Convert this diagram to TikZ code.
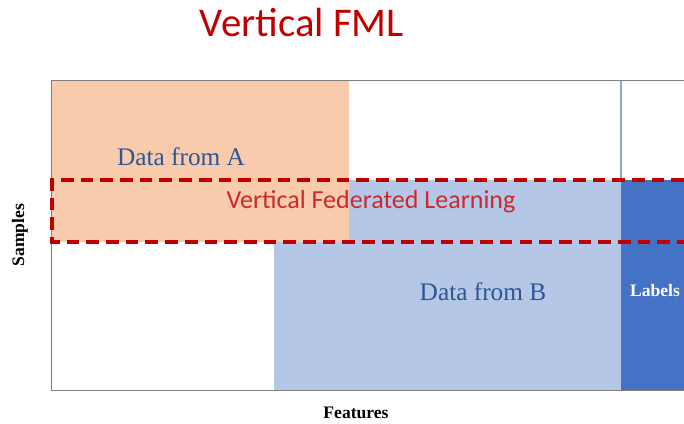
\documentclass[tikz,border=0pt]{standalone}
\usepackage{fontspec}
\setmainfont{Liberation Serif}
\newfontfamily\titlefont{Carlito}
\definecolor{fmlred}{RGB}{192, 0, 0}
\definecolor{vflred}{RGB}{205, 40, 45}
\definecolor{dataAorange}{RGB}{248, 203, 173}
\definecolor{dataBblue}{RGB}{180, 199, 231}
\definecolor{labelblue}{RGB}{68, 114, 196}
\definecolor{textblue}{RGB}{47, 85, 151}
\definecolor{axisgray}{RGB}{128, 128, 128}
\usetikzlibrary{positioning}

\begin{document}
\begin{tikzpicture}[x=0.025cm, y=-0.025cm,
    datatext/.style={font=\fontsize{18}{20}\selectfont, text=textblue},
    axistext/.style={font=\fontsize{12.5}{14}\selectfont\bfseries}]
            \useasboundingbox (0,0) rectangle (684,423);
            % Title
            \node[font=\titlefont\fontsize{29}{32}\selectfont, text=fmlred] (title) at (302,22) {Vertical FML};

            % Data blocks
            \fill[dataBblue] (274,180) rectangle (621,390);
            \fill[labelblue] (621,180) rectangle (684,390);
            \fill[dataAorange] (51,80) rectangle (349,242);
            \draw[dataBblue!60!labelblue, line width=0.8pt] (621,80) -- (621,180);

            % Axes
            \draw[axisgray, line width=0.6pt] (684,80) -- (51,80) -- (51,390) -- (684,390);

            % Federated overlap
            \draw[fmlred, line width=2.2pt, dash pattern=on 9pt off 5pt] (684,180) -- (52,180) -- (52,242) -- (684,242);

            % Labels
            \node[datatext] (dataA) at (181,157) {Data from A};
            \node[datatext] (dataB) at (483,292) {Data from B};
            \node[font=\titlefont\fontsize{18.5}{21}\selectfont, text=vflred] (vfl) at (371,202) {Vertical Federated Learning};
            \node[axistext, text=white] (labels) at (655,290) {Labels};
            \node[axistext, rotate=90] (samples) at (20,235) {Samples};
            \node[axistext] (features) at (356,413) {Features};
        \end{tikzpicture}
\end{document}
